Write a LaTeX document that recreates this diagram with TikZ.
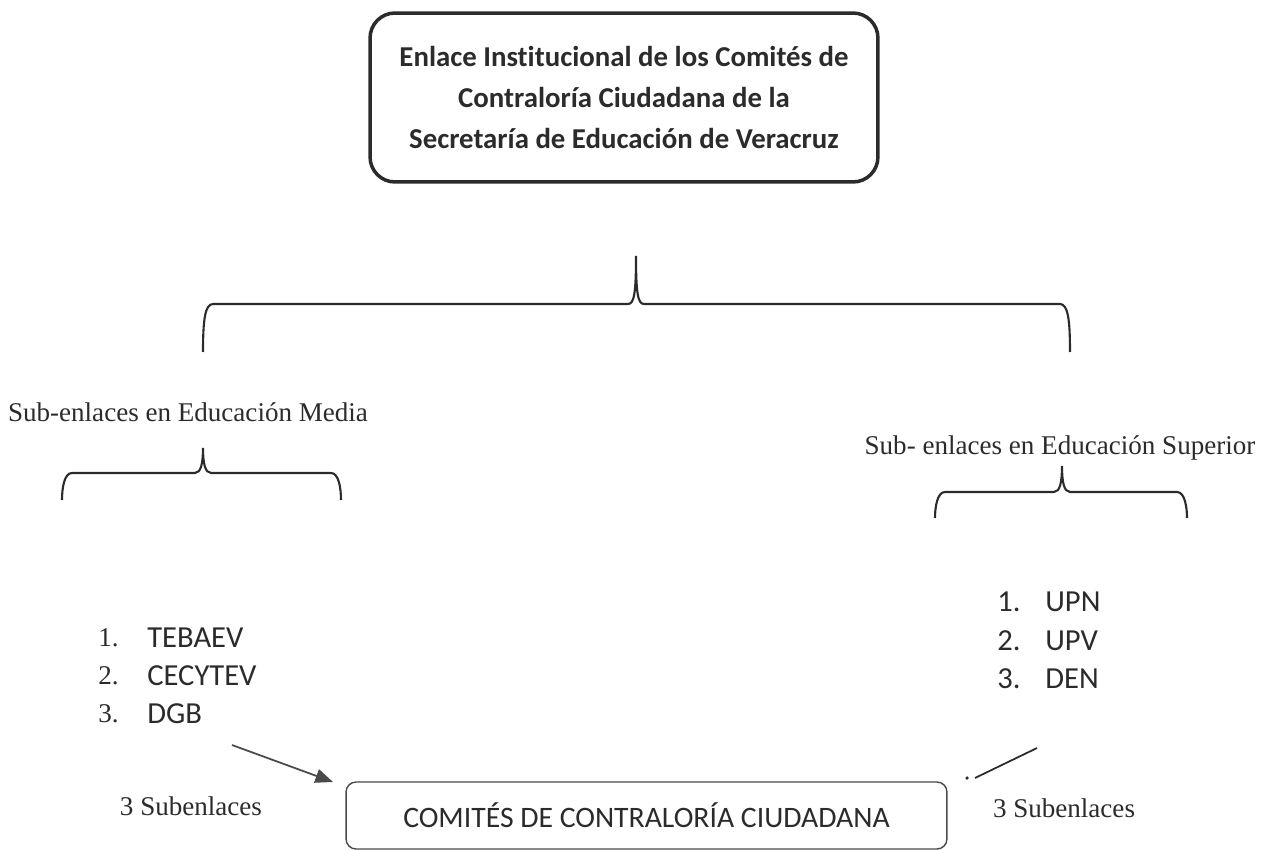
\documentclass[tikz,border=0pt]{standalone}
\usepackage{fontspec}
\setmainfont{Liberation Serif}
\newfontfamily\carlito[Ligatures=NoCommon]{Carlito}
\usetikzlibrary{arrows.meta}

\definecolor{tinta}{HTML}{2B2B2B}
\definecolor{borde}{HTML}{4A4A4A}

\newcommand{\drawbracket}[6]{%
	\draw[bracket] (#1,#6) .. controls (#1,{#5+16}) and ({#1+2},#5) .. ({#1+10},#5) -- ({#3-8},#5)
		.. controls ({#3-2},#5) and (#3,{#5-10}) .. (#3,#4)
		.. controls (#3,{#5-10}) and ({#3+2},#5) .. ({#3+8},#5) -- ({#2-10},#5)
		.. controls ({#2-2},#5) and (#2,{#5+16}) .. (#2,#6);
}

\begin{document}
\begin{tikzpicture}[x=0.02cm, y=-0.02cm,
		bracket/.style={draw=tinta, line width=1.2pt},
		topbox/.style={draw=tinta, line width=2pt, rounded corners=0.5cm, minimum width=10.16cm, minimum height=3.38cm, align=center, inner sep=0pt, font=\carlito\bfseries\fontsize{16.4}{23.3}\selectfont, text=tinta},
		bottombox/.style={draw=borde, line width=0.8pt, rounded corners=0.2cm, minimum width=12.02cm, minimum height=1.34cm, inner sep=0pt, font=\carlito\fontsize{16.9}{20}\selectfont, text=tinta},
		sublabel/.style={inner sep=0pt, font=\fontsize{15.4}{18}\selectfont, text=tinta},
		item/.style={anchor=west, inner sep=0pt, font=\carlito\fontsize{17.4}{20}\selectfont, text=tinta},
		flecha/.style={draw=borde, line width=1pt, -{Triangle[length=10pt, width=8pt]}}]

		\useasboundingbox (0,0) rectangle (1265,851);

		\node[topbox] (enlace) at (624,97.5) {Enlace Institucional de los Comités de\\Contraloría Ciudadana de la\\Secretaría de Educación de Veracruz};

		\drawbracket{203}{1070}{636}{256}{304}{352}
		\drawbracket{62}{341}{203}{448}{473}{500}
		\drawbracket{935}{1187}{1062}{466}{492}{518}

		\node[sublabel] (media) at (188,412) {Sub-enlaces en Educación Media};
		\node[sublabel] (superior) at (1060,448) {Sub- enlaces en Educación Superior};

		\foreach \n/\name/\y in {1/TEBAEV/638, 2/CECYTEV/676, 3/DGB/714}
		{
			\node[anchor=west, inner sep=0pt, font=\fontsize{15.4}{18}\selectfont, text=tinta] (numm\n) at (98,\y) {\n.};
			\node[item] (media\n) at (147,\y) {\name};
		}

		\foreach \n/\name/\y in {1/UPN/602, 2/UPV/641, 3/DEN/679}
		{
			\node[item] (nums\n) at (997,\y) {\n.};
			\node[item] (superior\n) at (1045,\y) {\name};
		}

		\node[bottombox] (comites) at (646.5,815.5) {COMITÉS DE CONTRALORÍA CIUDADANA};

		\node[sublabel] (subizq) at (191,806) {3 Subenlaces};
		\node[sublabel] (subder) at (1064,808) {3 Subenlaces};

		\coordinate (mediaend) at (232,745);
		\coordinate (mediatip) at (333,782);
		\draw[flecha] (mediaend) -- (mediatip);

		\coordinate (supend) at (1037,748);
		\coordinate (suptip) at (975,778);
		\draw[draw=tinta, line width=1pt] (supend) -- (suptip);
		\fill[tinta] (967,778) circle (1pt);

	\end{tikzpicture}
\end{document}
